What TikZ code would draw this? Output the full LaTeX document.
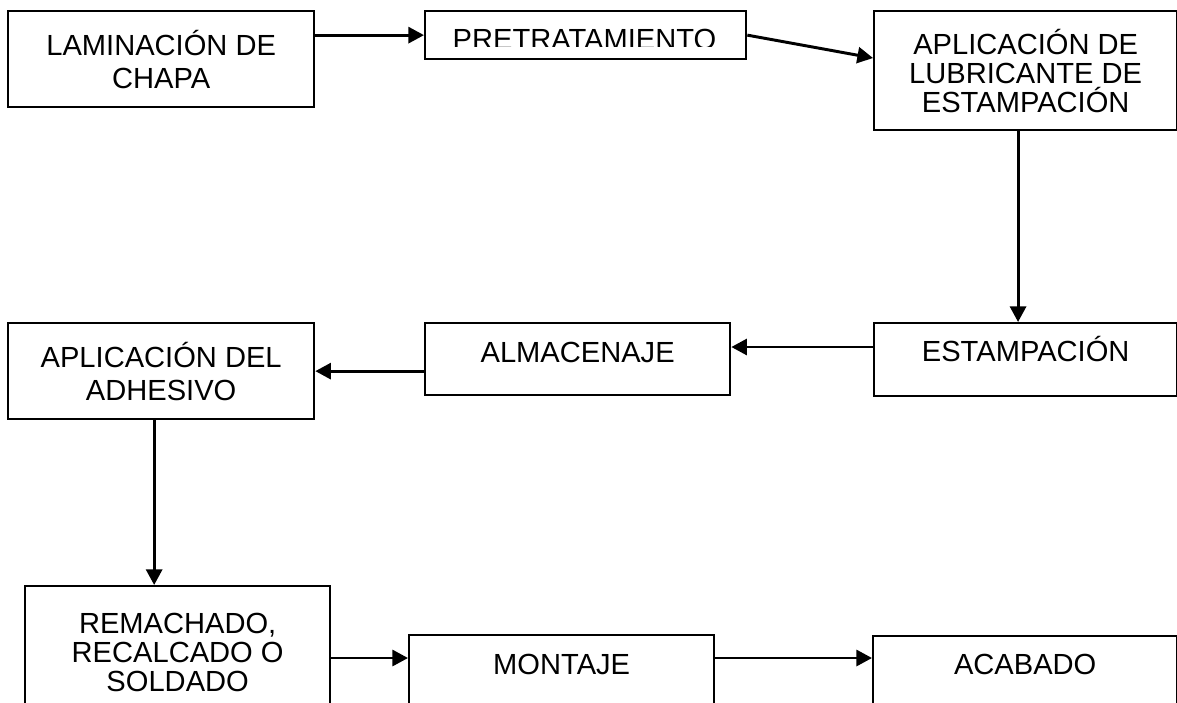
\documentclass[tikz,border=0pt]{standalone}
\usepackage{fontspec}
\setmainfont{Liberation Sans}
\usetikzlibrary{arrows.meta}
\begin{document}
\begin{tikzpicture}[x=0.025cm, y=-0.025cm, >={Triangle[length=0.39cm,width=0.4cm]},
	font=\fontsize{20.7}{20.6}\selectfont, line join=miter,
	box/.style={draw, line width=1.6pt, inner sep=0pt, anchor=north west, align=center},
	flow/.style={->, line width=2.1pt}]
	\path[use as bounding box, clip] (0,0) rectangle (1177,703);
	% fila de arriba
	\node[box, minimum width=7.65cm, minimum height=2.4cm] (lam) at (7,10) {LAMINACIÓN DE\\[2.8pt] CHAPA};
	\node[box, minimum width=8.025cm, minimum height=1.2cm] (pre) at (424,10) {};
	\begin{scope}
		\clip (424,10) rectangle (745,46.5); % texto cortado abajo
		\node[anchor=base] (pretxt) at (584.5,50) {PRETRATAMIENTO};
	\end{scope}
	\node[box, minimum width=7.575cm, minimum height=2.975cm] (lub) at (873,10) {APLICACIÓN DE\\ LUBRICANTE DE\\ ESTAMPACIÓN};
	% fila del medio
	\node[box, minimum width=7.575cm, text height=0.9625cm, text depth=0.8625cm] (est) at (873,322) {ESTAMPACIÓN};
	\node[box, minimum width=7.625cm, text height=0.9875cm, text depth=0.8125cm] (alm) at (424,322) {ALMACENAJE};
	\node[box, minimum width=7.65cm, minimum height=2.4cm] (adh) at (7,322) {APLICACIÓN DEL\\[2.8pt] ADHESIVO};
	% fila de abajo
	\node[box, minimum width=7.625cm, minimum height=3.3cm] (rem) at (24,585) {REMACHADO,\\ RECALCADO O\\ SOLDADO};
	\node[box, minimum width=7.625cm, text height=0.9875cm, text depth=1.0125cm] (mon) at (408,634) {MONTAJE};
	\node[box, minimum width=7.6cm, text height=0.9625cm, text depth=1.0125cm] (aca) at (872,635) {ACABADO};
	% flechas
	\draw[flow] (lam.east |- pre.west) -- (pre.west);
	\draw[flow] (pre.east) -- ([yshift=-1.2cm]lub.north west);
	\coordinate (c1) at ([xshift=-0.19cm]lub.south);
	\draw[flow] (c1) -- (c1 |- est.north);
	\coordinate (c2) at ([yshift=-0.625cm]est.north west);
	\draw[flow] (c2) -- (c2 -| alm.east);
	\draw[flow] (adh.east -| alm.west) -- (adh.east);
	\coordinate (c3) at ([xshift=-0.175cm]adh.south);
	\draw[flow] (c3) -- (c3 |- rem.north);
	\coordinate (c4) at ([yshift=-0.6cm]mon.north west);
	\draw[flow] (c4 -| rem.east) -- (c4);
	\coordinate (c5) at ([yshift=-0.575cm]aca.north west);
	\draw[flow] (c5 -| mon.east) -- (c5);
\end{tikzpicture}
\end{document}
